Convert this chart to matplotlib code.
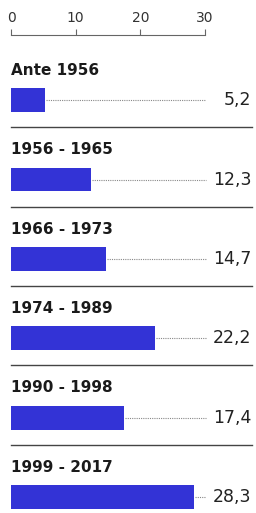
import matplotlib
matplotlib.use("Agg")
import matplotlib.pyplot as plt

categories = ["Ante 1956", "1956 - 1965", "1966 - 1973", "1974 - 1989", "1990 - 1998", "1999 - 2017"]
values = [5.2, 12.3, 14.7, 22.2, 17.4, 28.3]
value_labels = ["5,2", "12,3", "14,7", "22,2", "17,4", "28,3"]
xticks = [0, 10, 20, 30]

W, H = 256, 513
fig = plt.figure(figsize=(W / 100, H / 100), dpi=100)
x0, x1 = 11 / W, 205 / W
top_px = 35
ax = fig.add_axes([x0, 0, x1 - x0, (H - top_px) / H])
ax.set_xlim(0, 30)
ax.set_ylim(5.2, -0.82)

bar_color = "#3333d6"
for i, (v, lab, cat) in enumerate(zip(values, value_labels, categories)):
    ax.barh(i, v, height=0.30, color=bar_color, zorder=3)
    ax.plot([v + 0.2, 30.1], [i, i], color="#888888", lw=0.8, ls=(0, (1, 1)), zorder=2, clip_on=False)
    ax.text(37.2, i, lab, ha="right", va="center", fontsize=12.5, color="#222222", clip_on=False)
    ax.text(0, i - 0.375, cat, ha="left", va="center", fontsize=11, fontweight="bold", color="#1a1a1a", clip_on=False)
    if i < len(values) - 1:
        ax.plot([0, 37.3], [i + 0.34, i + 0.34], color="#444444", lw=1.0, clip_on=False)

for s in ["left", "right", "bottom"]:
    ax.spines[s].set_visible(False)
ax.spines["top"].set_color("#666666")
ax.spines["top"].set_linewidth(0.8)
ax.xaxis.set_ticks_position("top")
ax.xaxis.set_label_position("top")
ax.set_xticks(xticks)
ax.set_xticklabels([str(t) for t in xticks])
ax.tick_params(axis="x", direction="out", length=4, width=0.8, color="#666666", labelsize=10, labelcolor="#333333", pad=3)
ax.set_yticks([])

fig.savefig("out.png", dpi=100, facecolor="white")
